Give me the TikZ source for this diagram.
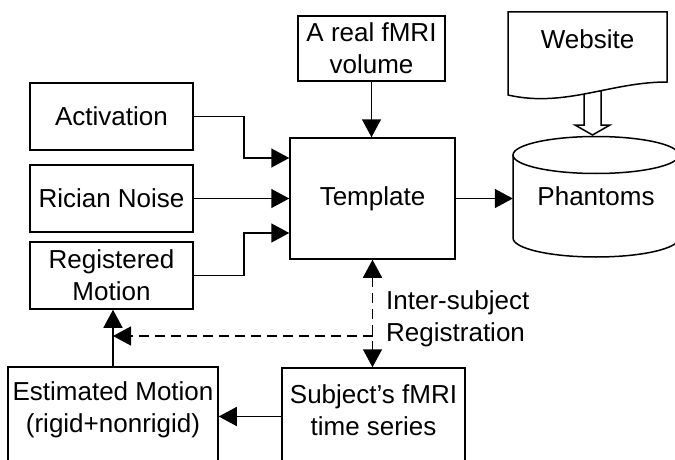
\documentclass[tikz,border=0pt]{standalone}
\usepackage{fontspec}
\setmainfont{Liberation Sans}
\usetikzlibrary{arrows.meta}
\begin{document}
\begin{tikzpicture}[x=1pt,y=-1pt,
  every node/.style={font=\fontsize{26}{32}\selectfont},
  box/.style={draw, line width=1.5pt, fill=white, rectangle, inner sep=0pt, align=center},
  plain/.style={inner sep=0pt, align=center},
  shp/.style={draw, line width=1.5pt, fill=white},
  >={Triangle[length=18pt,width=19pt]},
  conn/.style={line width=1.5pt, ->},
  dconn/.style={line width=1.5pt, dash pattern=on 10pt off 6pt}]
\useasboundingbox (0,0) rectangle (675,460);
\clip (0,0) rectangle (675,460);
% left column
\node[box, minimum width=163pt, minimum height=67pt] (act) at (111.5,116.5) {Activation};
\node[box, minimum width=163pt, minimum height=67pt] (ric) at (111.5,198.5) {Rician Noise};
\node[box, minimum width=163pt, minimum height=67pt] (reg) at (111.5,275.5) {Registered\\Motion};
% centre
\node[box, minimum width=165pt, minimum height=121pt] (tmpl) at (372.5,198.5) {Template};
\node[box, minimum width=147pt, minimum height=65pt] (vol) at (371.5,48.5) {A real fMRI\\volume};
% bottom
\node[box, minimum width=210pt, minimum height=98pt] (est) at (113,416) {};
\node[plain] (estT) at (113,410) {Estimated Motion\\(rigid+nonrigid)};
\node[box, minimum width=183pt, minimum height=97pt] (subj) at (373.5,416.5) {};
\node[plain] (subjT) at (373.5,410) {Subject’s fMRI\\time series};
% hollow arrow website -> phantoms
\draw[shp] (584,86) -- (584,125) -- (575,125) -- (592.5,135) -- (610,125) -- (601,125) -- (601,86) -- cycle;
% cylinder
\draw[shp] (513,155) -- (513,238) arc[start angle=180, end angle=360, x radius=83pt, y radius=19pt] -- (679,155);
\draw[shp] (596,155) ellipse [x radius=83pt, y radius=18.5pt];
\node[plain, minimum width=166pt, minimum height=121pt] (phan) at (596,196.5) {Phantoms};
% website document
\draw[shp] (508,12) -- (667,12) -- (667,82) .. controls (610,82) and (565,108) .. (508,95) -- cycle;
\node[plain] (web) at (587.5,39) {Website};
% connectors
\draw[conn] (vol.south) -- (vol.south |- tmpl.north);
\draw[conn] (act.east) -- ++(50,0) |- ([yshift=40.5pt]tmpl.west);
\draw[conn] (ric.east) -- (tmpl.west);
\draw[conn] (reg.east) -- ++(50,0) |- ([yshift=-34.5pt]tmpl.west);
\draw[conn] (tmpl.east) -- (tmpl.east -| phan.west);
\draw[conn] (subj.west) -- (subj.west -| est.east);
\draw[conn] (est.north) -- (est.north |- reg.south);
\draw[dconn, <->] (tmpl.south) -- (tmpl.south |- subj.north);
\coordinate (dj) at (373,336);
\draw[dconn, ->] (dj) -- (dj -| est.north);
\node[plain, anchor=west, align=left] (lbl) at (386,319) {Inter-subject\\Registration};
\end{tikzpicture}
\end{document}
